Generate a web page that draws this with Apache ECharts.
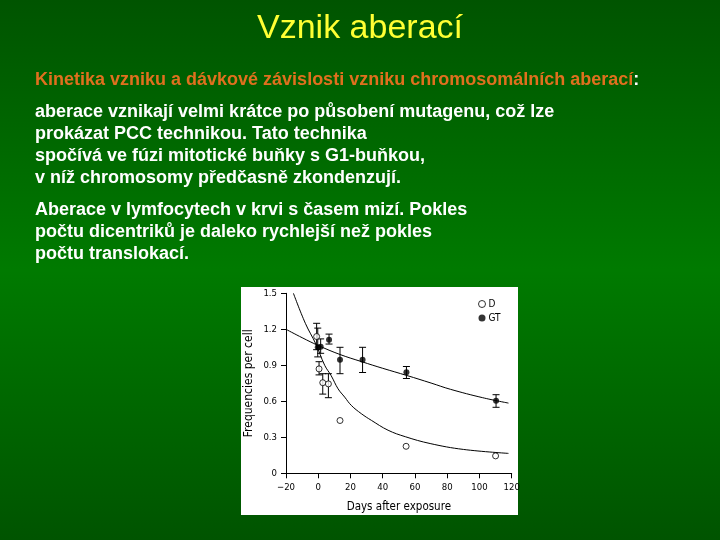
<!DOCTYPE html>
<html>
<head>
<meta charset="utf-8">
<script src="https://cdn.jsdelivr.net/npm/echarts@6/dist/echarts.min.js"></script>
<style>
  html, body { margin: 0; padding: 0; }
  #main { width: 720px; height: 540px; }
</style>
</head>
<body>
<div id="main"></div>
<script>
// measured points, D = dicentrics (open), GT = translocations (filled)
var dX = [-1, 0.5, 2.8, 6.3, 13.5, 54.5, 110];
var dY = [1.14, 0.87, 0.755, 0.745, 0.44, 0.225, 0.145];
var dLow = [1.03, 0.82, 0.66, 0.63, null, null, null];
var dHigh = [1.25, 0.93, 0.83, 0.83, null, null, null];

var gtX = [-0.3, 1.5, 6.7, 13.5, 27.5, 54.7, 110.3];
var gtY = [1.05, 1.055, 1.113, 0.947, 0.947, 0.843, 0.605];
var gtLow = [0.97, 1.0, 1.077, 0.83, 0.84, 0.79, 0.55];
var gtHigh = [1.21, 1.12, 1.16, 1.05, 1.05, 0.89, 0.655];

// fitted curves
var dCurveX = [-15.4, -8, -1.4, 4, 8, 12.3, 16.4, 20.5, 26.7, 33, 43.3, 54, 69.4, 90, 118];
var dCurveY = [1.50, 1.25, 1.075, 0.90, 0.814, 0.704, 0.635, 0.566, 0.497, 0.441, 0.359, 0.305, 0.248, 0.199, 0.166];
var gtCurveX = [-20, -10, 0, 13.5, 27, 40, 55, 70, 82, 102, 118];
var gtCurveY = [1.20, 1.13, 1.065, 0.99, 0.93, 0.875, 0.815, 0.752, 0.70, 0.63, 0.585];

var xTickLabels = ['\u221220', '0', '20', '40', '60', '80', '100', '120'];
var yTickLabels = ['0', '0.3', '0.6', '0.9', '1.2', '1.5'];

var textLines1 = [
    'aberace vznikají velmi krátce po působení mutagenu, což lze',
    'prokázat PCC technikou. Tato technika',
    'spočívá ve fúzi mitotické buňky s G1-buňkou,',
    'v níž chromosomy předčasně zkondenzují.'
];
var textLines2 = [
    'Aberace v lymfocytech v krvi s časem mizí. Pokles',
    'počtu dicentriků je daleko rychlejší než pokles',
    'počtu translokací.'
];

function zip(a, b) {
    var out = [];
    for (var i = 0; i < a.length; i++) out.push([a[i], b[i]]);
    return out;
}
function errData(xs, lo, hi) {
    var out = [];
    for (var i = 0; i < xs.length; i++) {
        if (lo[i] != null) out.push([xs[i], lo[i], hi[i]]);
    }
    return out;
}
function renderErr(params, api) {
    var x = api.value(0);
    var p1 = api.coord([x, api.value(2)]);
    var p2 = api.coord([x, api.value(1)]);
    var w = 3.5;
    var st = { stroke: '#000', lineWidth: 1 };
    return {
        type: 'group',
        children: [
            { type: 'line', shape: { x1: p1[0], y1: p1[1], x2: p2[0], y2: p2[1] }, style: st },
            { type: 'line', shape: { x1: p1[0] - w, y1: p1[1], x2: p1[0] + w, y2: p1[1] }, style: st },
            { type: 'line', shape: { x1: p2[0] - w, y1: p2[1], x2: p2[0] + w, y2: p2[1] }, style: st }
        ]
    };
}

var font = '"Liberation Sans", Arial, sans-serif';
var narrow = '"Liberation Sans Narrow", "DejaVu Sans Condensed", "Liberation Sans", sans-serif';

var graphics = [
    { type: 'rect', z: -10, shape: { x: 241, y: 287, width: 277, height: 228 }, style: { fill: '#fff' } },
    { type: 'text', x: 360, y: 29, style: { text: 'Vznik aberací', fill: '#ffff33', font: '34px ' + font, align: 'center', verticalAlign: 'middle' } },
    { type: 'text', x: 35, y: 80, style: {
        text: '{o|Kinetika vzniku a dávkové závislosti vzniku chromosomálních aberací}{w|:}',
        font: 'bold 18px ' + font, verticalAlign: 'middle',
        rich: { o: { fill: '#e0701e', font: 'bold 18px ' + font }, w: { fill: '#fff', font: 'bold 18px ' + font } }
    } }
];
textLines1.forEach(function (t, i) {
    graphics.push({ type: 'text', x: 35, y: 112 + i * 22, style: { text: t, fill: '#fff', font: 'bold 18px ' + font, verticalAlign: 'middle' } });
});
textLines2.forEach(function (t, i) {
    graphics.push({ type: 'text', x: 35, y: 210 + i * 22, style: { text: t, fill: '#fff', font: 'bold 18px ' + font, verticalAlign: 'middle' } });
});

var chart = echarts.init(document.getElementById('main'));
chart.setOption({
    backgroundColor: {
        type: 'linear', x: 0, y: 0, x2: 0, y2: 1,
        colorStops: [
            { offset: 0, color: '#005400' },
            { offset: 0.5, color: '#007a00' },
            { offset: 1, color: '#005400' }
        ]
    },
    animation: false,
    graphic: graphics,
    grid: { left: 286, top: 293.3, width: 225.7, height: 180 },
    legend: {
        left: 478, top: 299, orient: 'vertical', itemGap: 4, itemWidth: 7, itemHeight: 7, padding: 0,
        textStyle: { fontSize: 10, fontFamily: narrow, color: '#000', padding: [0, 0, 0, -2] },
        data: [
            { name: 'D', icon: 'circle', itemStyle: { color: '#fff', borderColor: '#000', borderWidth: 1 } },
            { name: 'GT', icon: 'circle', itemStyle: { color: '#000' } }
        ]
    },
    xAxis: {
        type: 'value', min: -20, max: 120, interval: 20,
        name: 'Days after exposure', nameLocation: 'middle', nameGap: 28,
        nameTextStyle: { fontSize: 11.5, fontFamily: narrow, color: '#000' },
        axisLine: { lineStyle: { color: '#000', width: 1 } },
        axisTick: { length: 5, lineStyle: { color: '#000' } },
        axisLabel: { fontSize: 9.5, fontFamily: narrow, color: '#000', margin: 9,
            formatter: function (v, i) { return xTickLabels[i]; } },
        splitLine: { show: false }
    },
    yAxis: {
        type: 'value', min: 0, max: 1.5, interval: 0.3,
        name: 'Frequencies per cell', nameLocation: 'middle', nameGap: 31,
        nameTextStyle: { fontSize: 12, fontFamily: narrow, color: '#000' },
        axisLine: { show: true, onZero: false, lineStyle: { color: '#000', width: 1 } },
        axisTick: { show: true, length: 5, lineStyle: { color: '#000' } },
        axisLabel: { fontSize: 9.5, fontFamily: narrow, color: '#000', margin: 9,
            formatter: function (v, i) { return yTickLabels[i]; } },
        splitLine: { show: false }
    },
    series: [
        { name: 'D fit', type: 'line', data: zip(dCurveX, dCurveY), smooth: 0.4, showSymbol: false,
          lineStyle: { color: '#000', width: 1 }, silent: true },
        { name: 'GT fit', type: 'line', data: zip(gtCurveX, gtCurveY), smooth: 0.4, showSymbol: false,
          lineStyle: { color: '#000', width: 1 }, silent: true },
        { name: 'D err', type: 'custom', renderItem: renderErr, data: errData(dX, dLow, dHigh), z: 3 },
        { name: 'GT err', type: 'custom', renderItem: renderErr, data: errData(gtX, gtLow, gtHigh), z: 3 },
        { name: 'D', type: 'scatter', data: zip(dX, dY), symbol: 'circle', symbolSize: 6, z: 4,
          itemStyle: { color: '#fff', borderColor: '#000', borderWidth: 1 } },
        { name: 'GT', type: 'scatter', data: zip(gtX, gtY), symbol: 'circle', symbolSize: 6, z: 4,
          itemStyle: { color: '#000' } }
    ]
});
</script>
</body>
</html>
